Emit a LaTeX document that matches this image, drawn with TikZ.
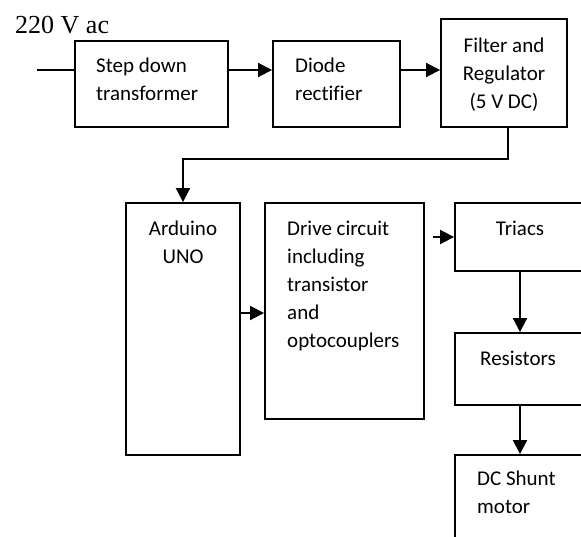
\documentclass[tikz,border=0pt]{standalone}
\usepackage{fontspec}
\newfontfamily\calfont[Ligatures=NoCommon]{Carlito}
\newfontfamily\timesfont{Liberation Serif}
\usetikzlibrary{arrows.meta}
\tikzset{
  box/.style={draw, line width=1.9pt, rectangle, inner sep=0pt},
  lbl/.style={inner sep=0pt, font=\calfont\fontsize{21}{28}\selectfont},
  arr/.style={line width=1.9pt, -{Triangle[length=14pt,width=14pt]}},
  wire/.style={line width=1.9pt}
}
\begin{document}
\begin{tikzpicture}[x=1pt,y=-1pt]
\useasboundingbox (0,0) rectangle (581,536);
\clip (0,0) rectangle (581,536);
% boxes
\node[box, minimum width=153pt, minimum height=86pt] (sdt) at (151.5,84) {};
\node[box, minimum width=127pt, minimum height=86pt] (dio) at (336.5,84) {};
\node[box, minimum width=126pt, minimum height=108pt] (fil) at (504,73) {};
\node[box, minimum width=114pt, minimum height=252pt] (ard) at (183,329) {};
\node[box, minimum width=159pt, minimum height=216pt] (drv) at (344.5,311) {};
\node[box, minimum width=130pt, minimum height=68pt] (tri) at (520,237) {};
\node[box, minimum width=130pt, minimum height=72pt] (res) at (520,369) {};
\node[box, minimum width=130pt, minimum height=105pt] (dcm) at (520,507.5) {};
% texts (multi-line nodes: base = baseline of last line)
\node[inner sep=0pt, anchor=base west, font=\timesfont\fontsize{26}{30}\selectfont] (ac) at (15,33) {220 V ac};
\node[lbl, anchor=base west, align=left] (tsdt) at (96,100) {Step down\\transformer};
\node[lbl, anchor=base west, align=left] (tdio) at (295,100) {Diode\\rectifier};
\node[lbl, anchor=base, align=center] (tfil) at (504,108) {Filter and\\Regulator\\(5 V DC)};
\node[lbl, anchor=base, align=center] (tard) at (183,263) {Arduino\\UNO};
\node[lbl, anchor=base west, align=left] (tdrv) at (287,347) {Drive circuit\\including\\transistor\\and\\optocouplers};
\node[lbl, anchor=base] (ttri) at (520,235) {Triacs};
\node[lbl, anchor=base] (tres) at (518,365) {Resistors};
\node[lbl, anchor=base west, align=left] (tdcm) at (477,513) {DC Shunt\\motor};
% connectors
\coordinate (in) at (37,70);
\draw[wire] (in) -- (in -| sdt.west);
\draw[arr] ([yshift=14pt]sdt.east) -- ([yshift=14pt]sdt.east -| dio.west);
\draw[arr] ([yshift=14pt]dio.east) -- ([yshift=14pt]dio.east -| fil.west);
\draw[arr] ([xshift=4pt]fil.south) -- ++(0,31) -| (ard.north);
\draw[arr] ([yshift=16pt]ard.east) -- ([yshift=16pt]ard.east -| drv.west);
\draw[arr] ([xshift=8pt]drv.east |- tri.west) -- (tri.west);
\draw[arr] (tri.south) -- (res.north);
\draw[arr] (res.south) -- (dcm.north);
\end{tikzpicture}
\end{document}
